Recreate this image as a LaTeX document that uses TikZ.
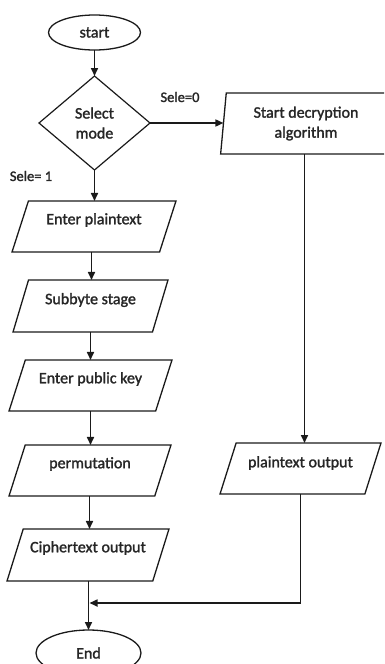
\documentclass[tikz,border=0pt]{standalone}
\usepackage{fontspec}
\setmainfont[FakeBold=1.6,AutoFakeBold=1.6]{Carlito}
\usetikzlibrary{shapes.geometric,arrows.meta,calc}
\definecolor{ln}{HTML}{1A1A1A}
\definecolor{tx}{HTML}{262626}
\begin{document}
\begin{tikzpicture}[x=1pt,y=-1pt,
  every node/.style={inner sep=0pt,outer sep=0pt,text=tx,font=\fontsize{16}{20}\selectfont\bfseries},
  term/.style={draw=ln,line width=1.3pt,ellipse},
  dec/.style={draw=ln,line width=1.2pt,diamond,align=center},
  io/.style={draw=ln,line width=1.3pt,trapezium,trapezium left angle=84,trapezium right angle=96,trapezium stretches=true,inner sep=1pt},
  lbl/.style={font=\fontsize{14.5}{17}\selectfont\bfseries},
  arr/.style={draw=ln,line width=1.6pt,-{Triangle[length=8pt,width=7pt]}}]
\useasboundingbox (0,0) rectangle (384,664);
\clip (0,0) rectangle (384,664);
\node[term,minimum width=92pt,minimum height=35pt] (start) at (94.5,32.5) {start};
\node[dec,minimum width=111pt,minimum height=94pt] (sel) at (94.5,123) {Select\\mode};
\node[io,minimum width=164pt,minimum height=51pt] (p1) at (94,226.5) {\phantom{X}};
\node[io,minimum width=155pt,minimum height=52pt] (p2) at (90.5,306) {\phantom{X}};
\node[io,minimum width=163pt,minimum height=51pt] (p3) at (90.5,385.5) {\phantom{X}};
\node[io,minimum width=162pt,minimum height=51pt] (p4) at (90,470.5) {\phantom{X}};
\node[io,minimum width=162pt,minimum height=52pt] (p5) at (88,555) {\phantom{X}};
\node[term,minimum width=105pt,minimum height=46pt] (end) at (88.5,653) {End};
\node[io,minimum width=171pt,minimum height=61pt,align=center] (r1) at (306,123.5) {Start decryption\\algorithm};
\node[io,minimum width=161pt,minimum height=51pt] (r2) at (300.5,468.5) {\phantom{X}};
\node (t1) at ([yshift=6.5pt]p1.center) {Enter plaintext};
\node (t2) at ([yshift=6pt]p2.center) {Subbyte stage};
\node (t3) at ([yshift=6.5pt]p3.center) {Enter public key};
\node (t4) at ([yshift=6.5pt]p4.center) {permutation};
\node (t5) at ([yshift=7pt]p5.center) {Ciphertext output};
\node (t6) at ([yshift=5.5pt]r2.center) {plaintext output};
\node[lbl] (l0) at (180,97) {Sele=0};
\node[lbl] (l1) at (31,176) {Sele= 1};
\coordinate (x1) at (91.5,0);
\coordinate (x2) at (90.5,0);
\coordinate (x3) at (90.5,0);
\coordinate (x4) at (89.5,0);
\coordinate (xr) at (304.5,0);
\coordinate (j) at (89.5,603);
\draw[arr] (start.south) -- (sel.north);
\draw[arr] (sel.south) -- (sel.south |- p1.north);
\draw[arr] (p1.south -| x1) -- (p2.north -| x1);
\draw[arr] (p2.south -| x2) -- (p3.north -| x2);
\draw[arr] (p3.south -| x3) -- (p4.north -| x3);
\draw[arr] (p4.south -| x4) -- (p5.north -| x4);
\draw[arr] (p5.south -| end.north) -- (end.north);
\draw[arr] (sel.east) -- (sel.east -| r1.west);
\draw[arr] (r1.south -| xr) -- (r2.north -| xr);
\draw[arr] (r2.south) |- (j);
\end{tikzpicture}
\end{document}
